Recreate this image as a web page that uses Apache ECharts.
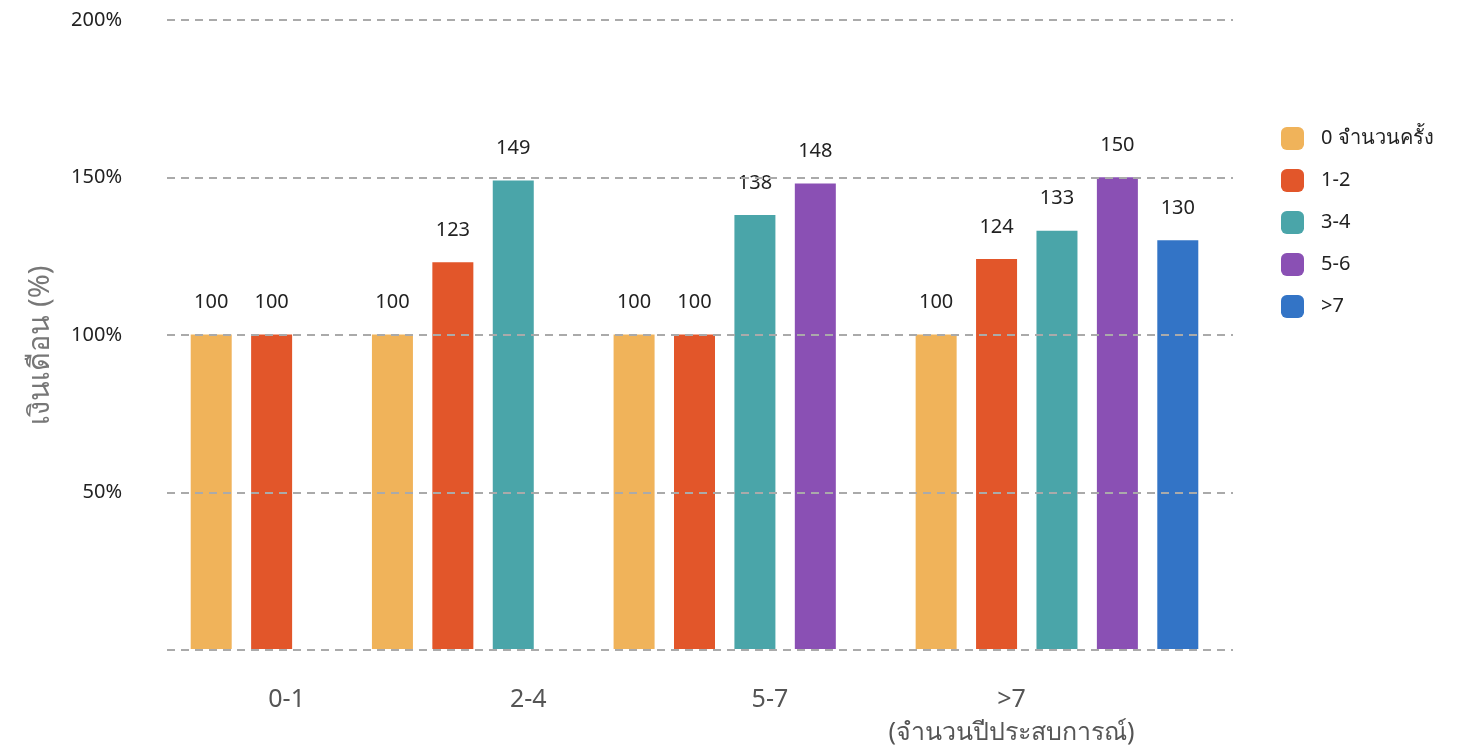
<!DOCTYPE html>
<html>
<head>
<meta charset="utf-8">
<script src="https://cdn.jsdelivr.net/npm/echarts@6/dist/echarts.min.js"></script>
<style>
  html, body { margin: 0; padding: 0; background: #fff; }
  #chart { width: 1459px; height: 749px; }
</style>
</head>
<body>
<div id="chart"></div>
<script>
// experience groups (x axis) and times-moved series (legend)
const groups = ['0-1', '2-4', '5-7', '>7'];
const xTitle = '(จำนวนปีประสบการณ์)';
const seriesNames = ['0 จำนวนครั้ง', '1-2', '3-4', '5-6', '>7'];
const colors = ['#F0B35A', '#E2562A', '#4AA5A9', '#8A50B4', '#3374C6'];

// salary index per group, one value per series present in the group
const group01 = [100, 100];
const group24 = [100, 123, 149];
const group57 = [100, 100, 138, 148];
const group7 = [100, 124, 133, 150, 130];
const groupValues = [group01, group24, group57, group7];

// lay the bars out on slots, one empty slot between groups
var slots = [];
var groupLabelSlot = {};
var seriesData = seriesNames.map(function () { return []; });
groupValues.forEach(function (vals, g) {
    if (g > 0) slots.push('gap' + g);
    vals.forEach(function (v, i) {
        slots.push(groups[g] + '_' + i);
    });
    // group names sit every 4 slots
    groupLabelSlot[1 + 4 * g] = g;
});
slots.forEach(function (s, idx) {
    seriesNames.forEach(function (n, si) { seriesData[si][idx] = '-'; });
});
var pos = 0;
groupValues.forEach(function (vals, g) {
    if (g > 0) pos++;
    vals.forEach(function (v, i) {
        seriesData[i][pos] = v;
        pos++;
    });
});

var dom = document.getElementById('chart');
var chart = echarts.init(dom);
var font = 'Noto Sans';

var option = {
    animation: false,
    textStyle: { fontFamily: font },
    color: colors,
    legend: {
        orient: 'vertical',
        left: 1276,
        top: 122,
        itemWidth: 23,
        itemHeight: 23,
        itemGap: 19,
        icon: 'roundRect',
        textStyle: { fontSize: 20, color: '#222', fontFamily: font, padding: [0, 0, 0, 12] },
        data: seriesNames
    },
    grid: [
        { left: 167, right: 226, top: 20, bottom: 99 },
        { left: 181, right: 251, top: 20, bottom: 99 }
    ],
    xAxis: [
        { type: 'category', gridIndex: 0, data: [''], show: false },
        {
            type: 'category',
            gridIndex: 1,
            data: slots,
            axisLine: { show: false },
            axisTick: { show: false },
            axisLabel: {
                interval: function (idx) { return groupLabelSlot[idx] !== undefined; },
                formatter: function (val, idx) {
                    var g = groupLabelSlot[idx];
                    if (g === undefined) return '';
                    return g === groups.length - 1 ? groups[g] + '\n' + xTitle : groups[g];
                },
                fontSize: 25,
                color: '#555',
                lineHeight: 33,
                margin: 34,
                padding: [0, 0, 0, 30]
            }
        }
    ],
    yAxis: [
        {
            type: 'value',
            gridIndex: 0,
            min: 0,
            max: 200,
            interval: 50,
            z: 5,
            name: 'เงินเดือน (%)',
            nameLocation: 'middle',
            nameGap: 112,
            nameTextStyle: { fontSize: 29, color: '#777', padding: [0, 20, 0, 0] },
            axisLine: { show: false },
            axisTick: { show: false },
            axisLabel: {
                fontSize: 20,
                color: '#222',
                margin: 45,
                formatter: function (v) { return v === 0 ? '' : v + '%'; }
            },
            splitLine: { lineStyle: { color: '#aaa', width: 2, type: [8, 6] } }
        },
        {
            type: 'value',
            gridIndex: 1,
            min: 0,
            max: 200,
            interval: 50,
            show: false
        }
    ],
    series: seriesNames.map(function (n, i) {
        return {
            name: n,
            type: 'bar',
            xAxisIndex: 1,
            yAxisIndex: 1,
            barWidth: 41,
            barGap: '-100%',
            data: seriesData[i],
            label: {
                show: true,
                position: 'top',
                distance: 22,
                fontSize: 20,
                color: '#222'
            }
        };
    })
};

if (option && typeof option === 'object') {
    chart.setOption(option);
}
</script>
</body>
</html>
